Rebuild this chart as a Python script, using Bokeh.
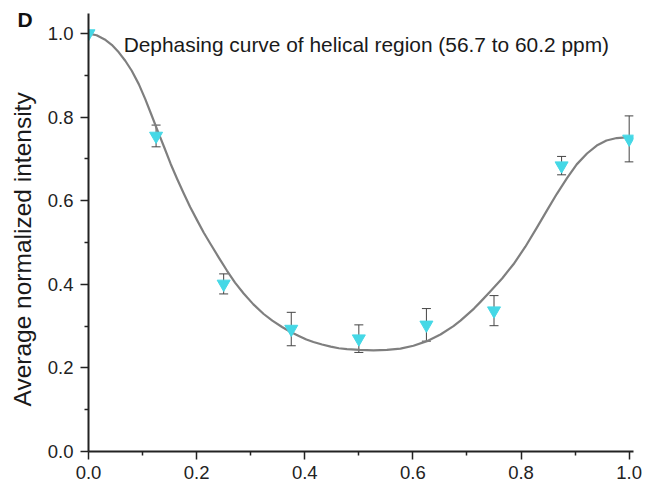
from bokeh.plotting import figure
from bokeh.models import (Range1d, ColumnDataSource, Whisker, TeeHead, Label, Title,
                          FixedTicker, PrintfTickFormatter)
from bokeh.embed import file_html
from bokeh.resources import INLINE

# measured points (mixing time fraction vs. average normalized intensity)
x_pts = [0.0, 0.125, 0.25, 0.375, 0.5, 0.625, 0.75, 0.875, 1.0]
y_pts = [1.0, 0.755, 0.401, 0.293, 0.270, 0.303, 0.337, 0.684, 0.748]
y_err = [0.0, 0.026, 0.024, 0.040, 0.033, 0.039, 0.036, 0.022, 0.055]

# fitted dephasing curve
x_fit = [0.0, 0.015, 0.03, 0.043, 0.056, 0.068, 0.08, 0.093, 0.105, 0.116, 0.127,
         0.14, 0.152, 0.164, 0.176, 0.188, 0.201, 0.213, 0.226, 0.241,
         0.256, 0.271, 0.287, 0.305, 0.324, 0.34, 0.358, 0.374, 0.39, 0.403, 0.416,
         0.432, 0.448, 0.463, 0.478, 0.502, 0.527, 0.552, 0.577, 0.601,
         0.626, 0.651, 0.675, 0.688, 0.70, 0.713, 0.725, 0.743, 0.765, 0.786,
         0.808, 0.829, 0.848, 0.866, 0.885, 0.903, 0.922, 0.94, 0.958, 0.977, 1.0]
y_fit = [1.0, 0.996, 0.986, 0.973, 0.955, 0.935, 0.911, 0.879, 0.843, 0.807, 0.770,
         0.728, 0.688, 0.652, 0.618, 0.585, 0.553, 0.524, 0.496, 0.464,
         0.433, 0.404, 0.378, 0.352, 0.329, 0.313, 0.298, 0.286, 0.276, 0.268, 0.262,
         0.256, 0.251, 0.247, 0.245, 0.243, 0.242, 0.243, 0.246, 0.253,
         0.264, 0.280, 0.300, 0.313, 0.327, 0.342, 0.358, 0.383, 0.414, 0.448,
         0.490, 0.535, 0.577, 0.616, 0.654, 0.687, 0.713, 0.732, 0.744, 0.750, 0.752]

x_ticks = [0.0, 0.2, 0.4, 0.6, 0.8, 1.0]
y_ticks = [0.0, 0.2, 0.4, 0.6, 0.8, 1.0]
x_minor = [0.1, 0.3, 0.5, 0.7, 0.9]
y_minor = [0.1, 0.3, 0.5, 0.7, 0.9]

title_text = "Dephasing curve of helical region (56.7 to 60.2 ppm)"
y_label_text = "Average normalized intensity"
panel_text = "D"

FONT = "Liberation Sans"

p = figure(width=650, height=488, output_backend="svg", toolbar_location=None,
           x_range=Range1d(0, 1.008), y_range=Range1d(0, 1.048),
           min_border_left=88, min_border_right=17, min_border_top=13,
           min_border_bottom=37)
p.outline_line_color = None
p.grid.visible = False
p.background_fill_color = "white"
p.border_fill_color = "white"

for ax, ticks, minor in ((p.xaxis[0], x_ticks, x_minor), (p.yaxis[0], y_ticks, y_minor)):
    ax.ticker = FixedTicker(ticks=ticks, minor_ticks=minor)
    ax.formatter = PrintfTickFormatter(format="%.1f")
    ax.axis_line_width = 2
    ax.axis_line_color = "#222222"
    ax.major_tick_line_color = "#222222"
    ax.minor_tick_line_color = "#222222"
    ax.major_tick_line_width = 1.5
    ax.minor_tick_line_width = 1.5
    ax.major_tick_in = 0
    ax.major_tick_out = 8
    ax.minor_tick_in = 0
    ax.minor_tick_out = 4
    ax.major_label_text_font = FONT
    ax.major_label_text_font_size = "18.5px"
    ax.major_label_text_color = "#222222"

p.xaxis.major_label_standoff = 6
p.yaxis.major_label_standoff = 7

src = ColumnDataSource(dict(x=x_pts, y=y_pts))
esrc = ColumnDataSource(dict(x=x_pts[1:], lo=[a - e for a, e in zip(y_pts[1:], y_err[1:])],
                             hi=[a + e for a, e in zip(y_pts[1:], y_err[1:])]))

p.line(x_fit, y_fit, line_color="#7f7f7f", line_width=2.2, line_join="round")

wh = Whisker(source=esrc, base="x", upper="hi", lower="lo", dimension="height",
             line_color="#444444", line_width=1, level="underlay",
             upper_head=TeeHead(size=9, line_color="#444444", line_width=1),
             lower_head=TeeHead(size=9, line_color="#444444", line_width=1))
p.add_layout(wh)

p.scatter("x", "y", source=src, marker="inverted_triangle", size=13,
          fill_color="#45d8e6", line_color="#45d8e6")

p.add_layout(Label(x=0.065, y=0.975, text=title_text, text_font=FONT,
                   text_font_size="20.9px", text_color="#1a1a1a",
                   text_baseline="alphabetic", text_align="left"))

# vertical axis title, placed in the left border
ylab = Title(text=y_label_text, align="left", offset=45, vertical_align="middle",
             standoff=15, text_font=FONT, text_font_size="24.5px",
             text_font_style="normal", text_color="#1a1a1a")
p.add_layout(ylab, "left")

# panel letter at the top-left corner
pl = Title(text=panel_text, align="left", offset=-71, vertical_align="bottom",
           standoff=-35, text_font=FONT, text_font_size="21px",
           text_font_style="bold", text_color="#111111")
p.add_layout(pl, "above")

open("out.html", "w").write(file_html(p, INLINE))
